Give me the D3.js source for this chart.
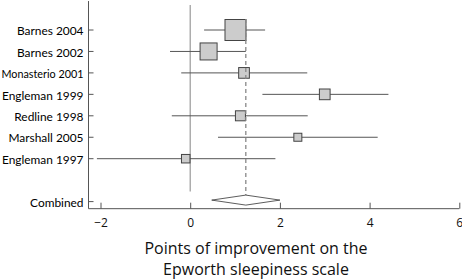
<!DOCTYPE html>
<html><head><meta charset="utf-8">
<script src="https://cdn.jsdelivr.net/npm/d3@7"></script>
<style>body{margin:0;background:#fff}svg{display:block}</style>
</head><body><svg id="c" width="462" height="280"></svg>
<script>
const studies = ["Barnes 2004","Barnes 2002","Monasterio 2001","Engleman 1999","Redline 1998","Marshall 2005","Engleman 1997"];
const estimates = [1.01, 0.41, 1.2, 3.0, 1.12, 2.4, -0.1];
const lower = [0.31, -0.45, -0.2, 1.61, -0.41, 0.62, -2.08];
const upper = [1.67, 1.24, 2.61, 4.42, 2.62, 4.18, 1.9];
const weights = [21, 17, 10.7, 10.7, 10, 8, 8.5];
const combined = {label:"Combined", est:1.24, lo:0.48, hi:2.0};
const xTicks = [-2,0,2,4,6];
const titleLines = ["Points of improvement on the","Epworth sleepiness scale"];

const svg = d3.select("#c");
const x = d3.scaleLinear().domain([-2,6]).range([100.5,459.3]);
const y = d3.scaleLinear().domain([0,8]).range([30,201.6]);
const axisY = y(8.33), topY = y(-1.35);
const lineCol = "#555";

svg.append("line").attr("x1",88.5).attr("x2",88.5).attr("y1",topY).attr("y2",axisY)
  .attr("stroke","#555").attr("stroke-width",1);
const xa = svg.append("g").attr("transform",`translate(0,${axisY})`)
  .call(d3.axisBottom(x).tickValues(xTicks).tickSize(-6).tickPadding(10).tickFormat(d=>d<0?"\u2212"+Math.abs(d):d));
xa.select(".domain").attr("d",`M88.5,0H${x(6)}`).attr("stroke","#555");
xa.selectAll(".tick line").attr("stroke","#555");
xa.selectAll("text").style("font-size","12px").attr("fill","#111").style("font-family","'Open Sans', sans-serif");

const labels = studies.concat([combined.label]);
const ypos = studies.map((d,i)=>y(i)).concat([y(8)]);
labels.forEach((l,i)=>{
  svg.append("line").attr("x1",88.5).attr("x2",93.5).attr("y1",ypos[i]).attr("y2",ypos[i]).attr("stroke","#555");
  const t = svg.append("text").attr("x",83.5).attr("y",ypos[i]+1).attr("dy","0.35em").attr("text-anchor","end")
    .style("font-size","11.9px").style("font-family","Lato, sans-serif").attr("fill","#000").text(l);
  const w = t.node().getComputedTextLength();
  if (w > 82) t.attr("textLength",82).attr("lengthAdjust","spacingAndGlyphs");
});

svg.append("line").attr("x1",x(0)).attr("x2",x(0)).attr("y1",5).attr("y2",y(8)-10)
  .attr("stroke","#999").attr("stroke-width",1.2);

studies.forEach((s,i)=>{
  svg.append("line").attr("x1",x(lower[i])).attr("x2",x(upper[i])).attr("y1",y(i)).attr("y2",y(i))
    .attr("stroke",lineCol).attr("stroke-width",1);
});
studies.forEach((s,i)=>{
  const w = weights[i];
  svg.append("rect").attr("x",x(estimates[i])-w/2).attr("y",y(i)-w/2).attr("width",w).attr("height",w)
    .attr("fill","#cccccc").attr("stroke","#444").attr("stroke-width",1);
});
svg.append("line").attr("x1",x(combined.est)).attr("x2",x(combined.est))
  .attr("y1",y(0)-11).attr("y2",y(8)-5)
  .attr("stroke","#888").attr("stroke-width",1.3).attr("stroke-dasharray","4,3");
const cy = y(8)-1.5;
svg.append("path").attr("d",`M${x(combined.lo)},${cy}L${x(combined.est)},${cy-5}L${x(combined.hi)},${cy}L${x(combined.est)},${cy+5}Z`)
  .attr("fill","#fff").attr("stroke","#333").attr("stroke-width",0.8);

titleLines.forEach((t,i)=>{
  svg.append("text").attr("x",256).attr("y",254+21*i).attr("text-anchor","middle")
    .style("font-size","16px").style("font-family","'Open Sans', sans-serif").attr("fill","#111").text(t);
});
</script></body></html>
